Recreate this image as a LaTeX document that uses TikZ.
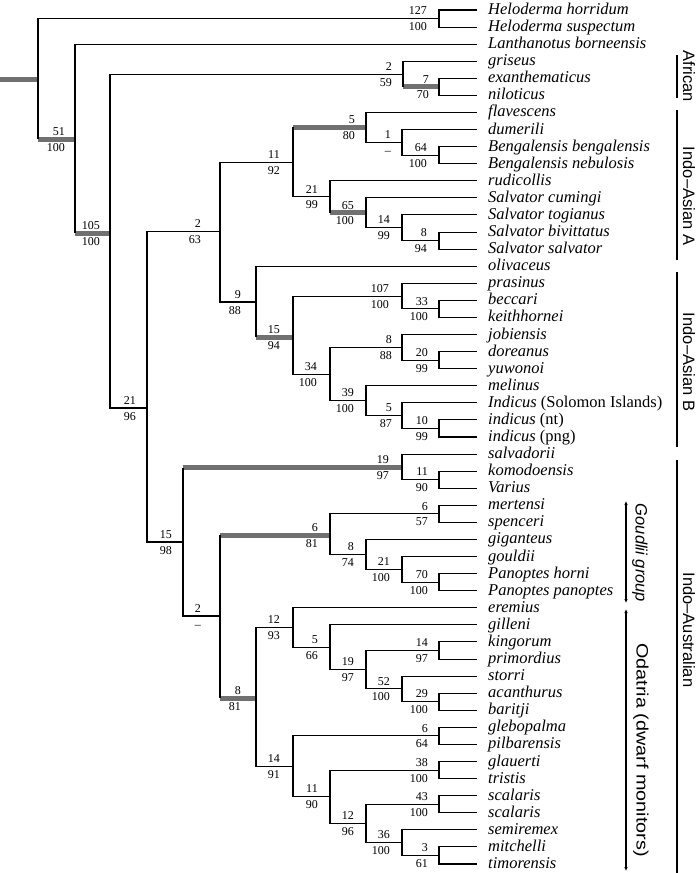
\documentclass[tikz,border=0pt]{standalone}
\usepackage{fontspec}
\setmainfont{Liberation Serif}
\newfontfamily\cladefont{Liberation Sans}
\usetikzlibrary{arrows.meta}
\definecolor{bargray}{HTML}{707070}
\tikzset{
  tree/.style={line width=1.05pt, black},
  gbar/.style={line width=5pt, bargray},
  lab/.style={font=\fontsize{12}{12}\selectfont, inner sep=0pt, anchor=base east},
  sp/.style={font=\fontsize{16.5}{18}\selectfont\itshape, inner sep=0pt, anchor=base west},
  cbar/.style={line width=1.4pt, black},
  clab/.style={font=\cladefont\fontsize{16.5}{18}\selectfont, inner sep=0pt, rotate=-90},
  arr/.style={line width=1.2pt, {Latex[length=4pt,width=3.5pt]}-{Latex[length=4pt,width=3.5pt]}}
}
\newcommand\lf[3]{\coordinate (#1) at (477,{10+17.08*(#2-1)}); \node[sp] (#1t) at (488,{14.5+17.08*(#2-1)}) {#3};}
\newcommand\br[2]{\draw[tree] (#1) |- (#2);}
\newcommand\gb[2]{\draw[gbar] (#1 |- #2) -- (#2); \draw[tree] (#1) -- (#1 |- #2);}
\newcommand\lb[4]{\node[lab] at ([xshift=-#4pt, yshift=3.8pt]#1) {#2}; \node[lab] at ([xshift=-#4pt, yshift=-12pt]#1) {#3};}
\begin{document}
\begin{tikzpicture}[x=1pt,y=-1pt]
\useasboundingbox (0,0) rectangle (700,873);
% leaves
\lf{l1}{1}{Heloderma horridum}
\lf{l2}{2}{Heloderma suspectum}
\lf{l3}{3}{Lanthanotus borneensis}
\lf{l4}{4}{griseus}
\lf{l5}{5}{exanthematicus}
\lf{l6}{6}{niloticus}
\lf{l7}{7}{flavescens}
\lf{l8}{8}{dumerili}
\lf{l9}{9}{Bengalensis bengalensis}
\lf{l10}{10}{Bengalensis nebulosis}
\lf{l11}{11}{rudicollis}
\lf{l12}{12}{Salvator cumingi}
\lf{l13}{13}{Salvator togianus}
\lf{l14}{14}{Salvator bivittatus}
\lf{l15}{15}{Salvator salvator}
\lf{l16}{16}{olivaceus}
\lf{l17}{17}{prasinus}
\lf{l18}{18}{beccari}
\lf{l19}{19}{keithhornei}
\lf{l20}{20}{jobiensis}
\lf{l21}{21}{doreanus}
\lf{l22}{22}{yuwonoi}
\lf{l23}{23}{melinus}
\lf{l24}{24}{Indicus \upshape(Solomon Islands)}
\lf{l25}{25}{indicus \upshape(nt)}
\lf{l26}{26}{indicus \upshape(png)}
\lf{l27}{27}{salvadorii}
\lf{l28}{28}{komodoensis}
\lf{l29}{29}{Varius}
\lf{l30}{30}{mertensi}
\lf{l31}{31}{spenceri}
\lf{l32}{32}{giganteus}
\lf{l33}{33}{gouldii}
\lf{l34}{34}{Panoptes horni}
\lf{l35}{35}{Panoptes panoptes}
\lf{l36}{36}{eremius}
\lf{l37}{37}{gilleni}
\lf{l38}{38}{kingorum}
\lf{l39}{39}{primordius}
\lf{l40}{40}{storri}
\lf{l41}{41}{acanthurus}
\lf{l42}{42}{baritji}
\lf{l43}{43}{glebopalma}
\lf{l44}{44}{pilbarensis}
\lf{l45}{45}{glauerti}
\lf{l46}{46}{tristis}
\lf{l47}{47}{scalaris}
\lf{l48}{48}{scalaris}
\lf{l49}{49}{semiremex}
\lf{l50}{50}{mitchelli}
\lf{l51}{51}{timorensis}
% internal nodes
\coordinate (R0) at (0,79);
\coordinate (Root) at (38,79);
\coordinate (Hel) at (439,18.54);
\coordinate (A) at (75,139);
\coordinate (B) at (110,233);
\coordinate (Af) at (403,74.05);
\coordinate (AfI) at (439,86.86);
\coordinate (D) at (147,408);
\coordinate (G) at (220,231.5);
\coordinate (H) at (293,162.12);
\coordinate (J) at (366,127.43);
\coordinate (L) at (402,142.37);
\coordinate (M) at (439,155.18);
\coordinate (K) at (330,196.81);
\coordinate (N) at (366,212.83);
\coordinate (O) at (402,227.77);
\coordinate (P) at (439,240.58);
\coordinate (I) at (256,302);
\coordinate (Q) at (293,337);
\coordinate (R) at (402,296.09);
\coordinate (T) at (439,308.9);
\coordinate (S) at (330,374.02);
\coordinate (U) at (402,347.33);
\coordinate (W) at (439,360.14);
\coordinate (V) at (366,400.7);
\coordinate (X) at (402,415.65);
\coordinate (Y) at (439,428.46);
\coordinate (F) at (183,542);
\coordinate (Z) at (402,467.5);
\coordinate (AB) at (439,479.7);
\coordinate (AA) at (220,616);
\coordinate (AC) at (330,535);
\coordinate (AE) at (439,513.86);
\coordinate (AF) at (366,554.43);
\coordinate (AG) at (402,569.37);
\coordinate (AH) at (439,582.18);
\coordinate (AD) at (256,698);
\coordinate (AI) at (293,627.55);
\coordinate (AK) at (330,647.3);
\coordinate (AL) at (366,669.72);
\coordinate (AM) at (439,650.5);
\coordinate (AN) at (402,688.93);
\coordinate (AO) at (439,701.74);
\coordinate (AJ) at (293,766.33);
\coordinate (AP) at (439,735.9);
\coordinate (AQ) at (330,796.75);
\coordinate (AR) at (439,770.06);
\coordinate (AS) at (366,823.44);
\coordinate (AT) at (439,804.22);
\coordinate (AU) at (402,842.65);
\coordinate (AV) at (439,855.46);
% edges
\draw[gbar] (R0) -- (Root);
\br{Root}{Hel} \gb{Root}{A}
\br{Hel}{l1} \br{Hel}{l2}
\br{A}{l3} \gb{A}{B}
\br{B}{Af} \br{B}{D}
\br{Af}{l4} \gb{Af}{AfI}
\br{AfI}{l5} \br{AfI}{l6}
\br{D}{G} \br{D}{F}
\br{G}{H} \br{G}{I}
\gb{H}{J} \br{H}{K}
\br{J}{l7} \br{J}{L}
\br{L}{l8} \br{L}{M}
\br{M}{l9} \br{M}{l10}
\br{K}{l11} \gb{K}{N}
\br{N}{l12} \br{N}{O}
\br{O}{l13} \br{O}{P}
\br{P}{l14} \br{P}{l15}
\br{I}{l16} \gb{I}{Q}
\br{Q}{R} \br{Q}{S}
\br{R}{l17} \br{R}{T}
\br{T}{l18} \br{T}{l19}
\br{S}{U} \br{S}{V}
\br{U}{l20} \br{U}{W}
\br{W}{l21} \br{W}{l22}
\br{V}{l23} \br{V}{X}
\br{X}{l24} \br{X}{Y}
\br{Y}{l25} \br{Y}{l26}
\gb{F}{Z} \br{F}{AA}
\br{Z}{l27} \br{Z}{AB}
\br{AB}{l28} \br{AB}{l29}
\gb{AA}{AC} \gb{AA}{AD}
\br{AC}{AE} \br{AC}{AF}
\br{AE}{l30} \br{AE}{l31}
\br{AF}{l32} \br{AF}{AG}
\br{AG}{l33} \br{AG}{AH}
\br{AH}{l34} \br{AH}{l35}
\br{AD}{AI} \br{AD}{AJ}
\br{AI}{l36} \br{AI}{AK}
\br{AK}{l37} \br{AK}{AL}
\br{AL}{AM} \br{AL}{AN}
\br{AM}{l38} \br{AM}{l39}
\br{AN}{l40} \br{AN}{AO}
\br{AO}{l41} \br{AO}{l42}
\br{AJ}{AP} \br{AJ}{AQ}
\br{AP}{l43} \br{AP}{l44}
\br{AQ}{AR} \br{AQ}{AS}
\br{AR}{l45} \br{AR}{l46}
\br{AS}{AT} \br{AS}{AU}
\br{AT}{l47} \br{AT}{l48}
\br{AU}{l49} \br{AU}{AV}
\br{AV}{l50} \br{AV}{l51}
% support labels
\lb{Hel}{127}{100}{12}
\lb{A}{51}{100}{10}
\lb{B}{105}{100}{10}
\lb{Af}{2}{59}{11}
\lb{AfI}{7}{70}{10}
\lb{J}{5}{80}{11}
\lb{L}{1}{–}{11}
\lb{M}{64}{100}{12}
\lb{H}{11}{92}{13}
\lb{K}{21}{99}{12}
\lb{N}{65}{100}{12}
\lb{O}{14}{99}{12}
\lb{P}{8}{94}{12}
\lb{G}{2}{63}{19}
\lb{I}{9}{88}{15}
\lb{Q}{15}{94}{13}
\lb{R}{107}{100}{13}
\lb{T}{33}{100}{11}
\lb{S}{34}{100}{13}
\lb{U}{8}{88}{10}
\lb{W}{20}{99}{11}
\lb{V}{39}{100}{12}
\lb{X}{5}{87}{10}
\lb{Y}{10}{99}{11}
\lb{D}{21}{96}{11}
\lb{F}{15}{98}{11}
\lb{Z}{19}{97}{13}
\lb{AB}{11}{90}{11}
\lb{AA}{2}{–}{19}
\lb{AC}{6}{81}{12}
\lb{AE}{6}{57}{11}
\lb{AF}{8}{74}{12}
\lb{AG}{21}{100}{12}
\lb{AH}{70}{100}{11}
\lb{AD}{8}{81}{15}
\lb{AI}{12}{93}{13}
\lb{AK}{5}{66}{12}
\lb{AL}{19}{97}{12}
\lb{AM}{14}{97}{11}
\lb{AN}{52}{100}{12}
\lb{AO}{29}{100}{11}
\lb{AJ}{14}{91}{13}
\lb{AP}{6}{64}{11}
\lb{AQ}{11}{90}{12}
\lb{AR}{38}{100}{11}
\lb{AS}{12}{96}{12}
\lb{AT}{43}{100}{11}
\lb{AU}{36}{100}{12}
\lb{AV}{3}{61}{11}
% clade bars
\coordinate (cA1) at (677,55); \coordinate (cA2) at (677,98);
\draw[cbar] (cA1) -- (cA2);
\node[clab] (tA) at (689,76.5) {African};
\coordinate (cB1) at (677,110); \coordinate (cB2) at (677,260);
\draw[cbar] (cB1) -- (cB2);
\node[clab] (tB) at (689,196) {Indo–Asian A};
\coordinate (cC1) at (677,272); \coordinate (cC2) at (677,447);
\draw[cbar] (cC1) -- (cC2);
\node[clab] (tC) at (689,362) {Indo–Asian B};
\coordinate (cD1) at (677,460); \coordinate (cD2) at (677,873);
\draw[cbar] (cD1) -- (cD2);
\node[clab] (tD) at (689,630) {Indo–Australian};
\coordinate (gA) at (626,501); \coordinate (gB) at (626,603);
\draw[arr] (gA) -- (gB);
\node[clab, font=\cladefont\itshape\fontsize{16.5}{18}\selectfont] (tG) at (640,553) {Goudlii group};
\coordinate (oA) at (626,609); \coordinate (oB) at (626,871);
\draw[arr] (oA) -- (oB);
\node[clab] (tO) at (641,750) {\scalebox{1.2}[1]{Odatria (dwarf monitors)}};
\end{tikzpicture}
\end{document}
